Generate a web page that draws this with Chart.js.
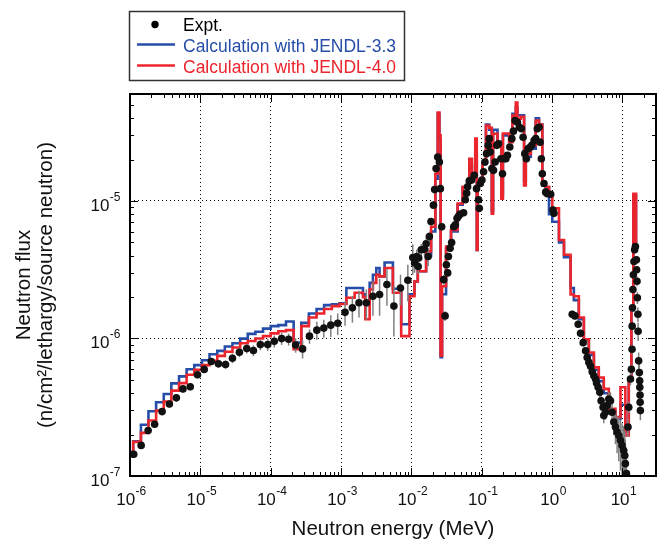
<!DOCTYPE html>
<html>
<head>
<meta charset="utf-8">
<script src="https://cdn.jsdelivr.net/npm/chart.js@4.4.0/dist/chart.umd.min.js"></script>
<style>
  html, body { margin: 0; padding: 0; background: #fff; }
</style>
</head>
<body>
<canvas id="fluxChart" width="660" height="546"></canvas>
<script>
// calculated spectra: bin left edges (MeV), value holds until next edge
const binEdges = [
    1.0e-6, 1.11e-6, 1.43e-6, 1.83e-6, 2.35e-6, 3.02e-6, 3.87e-6, 4.98e-6, 6.38e-6, 8.2e-6,
    1.054e-5, 1.35e-5, 1.74e-5, 2.23e-5, 2.86e-5, 3.68e-5, 4.72e-5, 6.07e-5, 7.78e-5, 1.0e-4,
    1.285e-4, 1.65e-4, 2.12e-4, 2.72e-4, 3.49e-4, 4.49e-4, 5.75e-4, 7.4e-4, 9.5e-4, 1.19e-3,
    1.56e-3, 2.05e-3, 2.21e-3, 2.55e-3, 2.84e-3, 3.17e-3, 3.53e-3, 4.16e-3, 5.46e-3, 7.16e-3,
    9.4e-3, 1.106e-2, 1.233e-2, 1.62e-2, 1.905e-2, 2.19e-2, 2.37e-2, 2.50e-2, 2.60e-2, 2.73e-2,
    3.11e-2, 3.66e-2, 4.54e-2, 5.35e-2, 6.65e-2, 7.26e-2, 8.09e-2, 8.50e-2, 8.73e-2, 0.1026,
    0.1148, 0.1276, 0.139, 0.145, 0.1675, 0.19, 0.20, 0.2455, 0.273, 0.305,
    0.321, 0.359, 0.40, 0.423, 0.498, 0.586, 0.652, 0.726, 0.811, 0.904,
    1.007, 1.253, 1.476, 1.832, 2.04, 2.40, 2.83, 3.33, 3.93, 4.61,
    5.43, 6.40, 7.94, 9.38, 11.0, 12.3, 13.4, 14.3, 15.6
];
const jendl33 = [
    1.5e-7, 1.79e-7, 2.36e-7, 2.96e-7, 3.44e-7, 3.95e-7, 4.72e-7, 5.3e-7, 5.98e-7, 6.4e-7,
    6.95e-7, 7.69e-7, 8.13e-7, 8.74e-7, 9.23e-7, 9.98e-7, 1.08e-6, 1.12e-6, 1.18e-6, 1.23e-6,
    1.25e-6, 1.33e-6, 9.34e-7, 1.3e-6, 1.52e-6, 1.64e-6, 1.75e-6, 1.77e-6, 1.8e-6, 2.33e-6,
    2.33e-6, 2.1e-6, 1.75e-6, 2.54e-6, 2.91e-6, 3.26e-6, 2.83e-6, 3.57e-6, 2.3e-6, 1.27e-6,
    2.1e-6, 2.6e-6, 3.08e-6, 4.0e-6, 6.0e-6, 1.45e-5, 4.3e-5, 2.8e-5, 7.3e-7, 2.1e-6,
    4.5e-6, 6.0e-6, 9.4e-6, 1.25e-5, 1.8e-5, 1.55e-5, 2.2e-5, 4.4e-6, 1.4e-5, 1.85e-5,
    3.6e-5, 3.3e-5, 8.5e-6, 3.3e-5, 2.7e-5, 1.1e-5, 3.0e-5, 2.7e-5, 4.3e-5, 4.8e-5,
    4.2e-5, 4.2e-5, 1.4e-5, 2.1e-5, 2.4e-5, 4.0e-5, 3.6e-5, 1.3e-5, 1.25e-5, 8.0e-6,
    7.07e-6, 5.0e-6, 3.9e-6, 2.33e-6, 1.9e-6, 1.38e-6, 9.7e-7, 7.6e-7, 5.9e-7, 4.9e-7,
    4.0e-7, 2.95e-7, 2.6e-7, 3.3e-7, 2.1e-7, 5.0e-7, 1.6e-6, 1.1e-5, 4.5e-6
];
const jendl40 = [
    1.41e-7, 1.77e-7, 2.06e-7, 2.53e-7, 2.99e-7, 3.48e-7, 4.18e-7, 4.74e-7, 5.45e-7, 5.92e-7,
    6.4e-7, 6.88e-7, 7.48e-7, 8.0e-7, 8.6e-7, 9.23e-7, 9.6e-7, 1.0e-6, 1.04e-6, 1.09e-6,
    1.13e-6, 1.15e-6, 8.35e-7, 1.23e-6, 1.42e-6, 1.52e-6, 1.64e-6, 1.72e-6, 1.78e-6, 1.98e-6,
    2.15e-6, 2.0e-6, 1.38e-6, 2.27e-6, 2.54e-6, 2.91e-6, 2.83e-6, 3.26e-6, 2.15e-6, 1.04e-6,
    2.03e-6, 2.6e-6, 3.08e-6, 4.3e-6, 6.5e-6, 1.58e-5, 4.4e-5, 3.0e-5, 7.5e-7, 2.4e-6,
    4.66e-6, 6.16e-6, 9.6e-6, 1.27e-5, 2.03e-5, 1.58e-5, 2.84e-5, 4.4e-6, 1.42e-5, 1.87e-5,
    3.54e-5, 3.4e-5, 8.1e-6, 3.08e-5, 2.61e-5, 1.04e-5, 3.1e-5, 2.68e-5, 4.18e-5, 5.2e-5,
    3.96e-5, 4.1e-5, 1.3e-5, 2.2e-5, 2.54e-5, 3.85e-5, 3.6e-5, 1.34e-5, 1.27e-5, 1.1e-5,
    8.84e-6, 5.21e-6, 4.07e-6, 2.09e-6, 2.03e-6, 1.42e-6, 9.87e-7, 7.9e-7, 6.17e-7, 5.21e-7,
    4.3e-7, 3.08e-7, 2.68e-7, 4.42e-7, 1.97e-7, 5.1e-7, 1.7e-6, 1.13e-5, 4.5e-6
];

// measured points: energy (MeV), flux, relative error
const exptEnergy = [
    1.13e-6, 1.44e-6, 1.81e-6, 2.24e-6, 2.86e-6, 3.63e-6, 4.56e-6, 5.66e-6, 7.19e-6, 9.12e-6,
    1.135e-5, 1.43e-5, 1.81e-5, 2.28e-5, 2.86e-5, 3.59e-5, 4.57e-5, 5.68e-5, 7.13e-5, 9.08e-5,
    1.125e-4, 1.43e-4, 1.8e-4, 2.26e-4, 2.84e-4, 3.56e-4, 4.53e-4, 5.69e-4, 7.15e-4, 8.97e-4,
    1.14e-3, 1.45e-3, 1.8e-3, 2.29e-3, 2.84e-3, 3.53e-3, 4.49e-3, 5.64e-3, 7.0e-3, 8.9e-3,
    1.047e-2, 1.11e-2, 1.19e-2, 1.25e-2, 1.27e-2, 1.38e-2, 1.53e-2, 1.62e-2, 1.73e-2, 1.8e-2,
    1.9e-2, 2.06e-2, 2.14e-2, 0.02244, 0.02366, 0.025, 0.02582, 0.02698, 0.02877, 0.03013,
    0.03141, 0.0328, 0.03357, 0.03548, 0.03733, 0.0399, 0.04217, 0.04457, 0.0469, 0.04955,
    0.05521, 0.05834, 0.06095, 0.06295, 0.06653, 0.07178, 0.07834, 0.08437, 0.09016, 0.09226,
    0.09528, 0.1007, 0.1062, 0.111, 0.1169, 0.1236, 0.1276, 0.1318, 0.1393, 0.1469,
    0.1552, 0.1641, 0.173, 0.1871, 0.1972, 0.2084, 0.2203, 0.2317, 0.2506, 0.2679,
    0.2818, 0.2979, 0.3214, 0.3428, 0.3664, 0.3873, 0.4093, 0.4315, 0.456, 0.4819,
    0.5144, 0.5546, 0.5861, 0.6166, 0.6516, 0.6745, 0.7031, 0.7262, 0.7674, 0.811,
    0.855, 0.955, 1.03, 1.064, 1.932, 2.109, 2.35, 2.541, 2.767, 2.993,
    3.155, 3.334, 3.524, 3.716, 3.927, 4.151, 4.287, 4.511, 4.768, 4.977,
    5.31, 5.43, 5.74, 6.05, 6.4, 6.76, 7.13, 7.53, 7.96, 8.39,
    8.87, 9.37, 9.87, 10.4, 10.8, 11.0, 11.4, 12.0, 12.3, 13.0,
    13.4, 13.7, 13.75, 13.9, 14.1, 14.3, 14.6, 14.9, 15.3, 15.8,
    15.9, 16.1, 16.3, 16.6, 16.7, 17.0, 17.4, 17.6, 17.65, 17.8,
    17.85, 18.0
];
const exptFlux = [
    1.44e-7, 1.67e-7, 2.14e-7, 2.38e-7, 2.94e-7, 3.34e-7, 3.7e-7, 4.3e-7, 4.46e-7, 5.45e-7,
    5.96e-7, 6.81e-7, 6.55e-7, 6.47e-7, 7.19e-7, 7.94e-7, 8.45e-7, 8.17e-7, 9.03e-7, 9.03e-7,
    9.55e-7, 9.98e-7, 9.87e-7, 8.97e-7, 8.4e-7, 1.04e-6, 1.15e-6, 1.19e-6, 1.25e-6, 1.29e-6,
    1.55e-6, 1.67e-6, 1.82e-6, 1.82e-6, 2.03e-6, 2.09e-6, 2.47e-6, 1.72e-6, 2.33e-6, 2.65e-6,
    3.88e-6, 3.54e-6, 3.95e-6, 3.34e-6, 3.85e-6, 4.42e-6, 4.47e-6, 4.88e-6, 3.95e-6, 5.51e-6,
    7.08e-6, 9.33e-6, 1.21e-5, 1.72e-5, 2.09e-5, 1.92e-5, 1.23e-5, 6.5e-6, 2.68e-6, 1.46e-6,
    3.44e-6, 3.0e-6, 3.95e-6, 4.54e-6, 4.99e-6, 6.5e-6, 6.7e-6, 7.48e-6, 7.78e-6, 8.04e-6,
    8.22e-6, 1.02e-5, 1.14e-5, 1.27e-5, 1.4e-5, 1.42e-5, 1.54e-5, 1.23e-5, 1.02e-5, 8.84e-6,
    1.34e-5, 1.42e-5, 1.63e-5, 1.92e-5, 2.21e-5, 2.54e-5, 2.84e-5, 2.27e-5, 1.72e-5, 1.67e-5,
    1.92e-5, 2.54e-5, 2.61e-5, 2.03e-5, 1.58e-5, 2.03e-5, 2.03e-5, 2.15e-5, 2.47e-5, 2.84e-5,
    3.22e-5, 3.85e-5, 3.74e-5, 3.44e-5, 3.35e-5, 2.91e-5, 2.21e-5, 2.03e-5, 2.4e-5, 2.45e-5,
    2.54e-5, 2.75e-5, 2.84e-5, 3.35e-5, 3.44e-5, 2.68e-5, 2.03e-5, 1.58e-5, 1.34e-5, 1.16e-5,
    1.13e-5, 1.12e-5, 8.6e-6, 8.13e-6, 1.5e-6, 1.46e-6, 1.27e-6, 1.09e-6, 9.33e-7, 8.13e-7,
    7.28e-7, 6.7e-7, 6.27e-7, 5.73e-7, 5.36e-7, 5.07e-7, 4.74e-7, 4.42e-7, 4.06e-7, 3.53e-7,
    3.16e-7, 2.75e-7, 2.91e-7, 3.25e-7, 3.63e-7, 3.53e-7, 2.91e-7, 2.47e-7, 2.27e-7, 2.09e-7,
    1.97e-7, 1.82e-7, 1.67e-7, 1.54e-7, 1.41e-7, 1.23e-7, 1.04e-7, 2.27e-7, 3.16e-7, 5.07e-7,
    5.98e-7, 8.35e-7, 1.23e-6, 1.67e-6, 2.27e-6, 2.91e-6, 3.63e-6, 4.42e-6, 4.66e-6, 3.74e-6,
    3.16e-6, 2.61e-6, 1.98e-6, 1.5e-6, 1.13e-6, 6.88e-7, 5.66e-7, 4.93e-7, 4.42e-7, 3.88e-7,
    3.44e-7, 2.99e-7
];
const exptErr = [
    0.06, 0.06, 0.06, 0.06, 0.06, 0.06, 0.06, 0.06, 0.06, 0.06,
    0.06, 0.06, 0.07, 0.07, 0.08, 0.08, 0.08, 0.09, 0.09, 0.1,
    0.1, 0.1, 0.1, 0.12, 0.15, 0.12, 0.15, 0.15, 0.18, 0.18,
    0.2, 0.22, 0.22, 0.25, 0.28, 0.3, 0.3, 0.4, 0.25, 0.3,
    0.25, 0.15, 0.12, 0.12, 0.12, 0.1, 0.1, 0.1, 0.15, 0.08,
    0.06, 0.06, 0.06, 0.06, 0.06, 0.06, 0.06, 0.06, 0.08, 0.08,
    0.06, 0.06, 0.06, 0.06, 0.06, 0.05, 0.05, 0.05, 0.05, 0.05,
    0.05, 0.05, 0.05, 0.05, 0.05, 0.05, 0.05, 0.05, 0.05, 0.05,
    0.05, 0.05, 0.05, 0.05, 0.05, 0.05, 0.05, 0.05, 0.05, 0.05,
    0.05, 0.05, 0.05, 0.05, 0.05, 0.05, 0.05, 0.05, 0.05, 0.05,
    0.05, 0.05, 0.05, 0.05, 0.05, 0.05, 0.05, 0.05, 0.05, 0.05,
    0.05, 0.05, 0.05, 0.05, 0.05, 0.05, 0.05, 0.05, 0.05, 0.05,
    0.05, 0.05, 0.05, 0.05, 0.06, 0.06, 0.06, 0.06, 0.06, 0.06,
    0.06, 0.06, 0.07, 0.07, 0.07, 0.08, 0.08, 0.08, 0.1, 0.1,
    0.1, 0.12, 0.12, 0.12, 0.12, 0.15, 0.15, 0.2, 0.25, 0.3,
    0.35, 0.4, 0.45, 0.5, 0.5, 0.5, 0.5, 0.15, 0.1, 0.1,
    0.08, 0.08, 0.06, 0.06, 0.05, 0.05, 0.05, 0.05, 0.05, 0.06,
    0.06, 0.08, 0.1, 0.12, 0.15, 0.15, 0.15, 0.15, 0.15, 0.15,
    0.15, 0.15
];

const xDecades = [1e-6, 1e-5, 1e-4, 1e-3, 1e-2, 1e-1, 1, 10];
const yDecades = [1e-7, 1e-6, 1e-5];
const xMin = 1e-6, xMax = 30, yMin = 1e-7, yMax = 6e-5;

const FONT = "'Liberation Sans', Arial, Helvetica, sans-serif";
const BLUE = 'rgb(38, 78, 168)';
const RED = 'rgb(236, 36, 44)';

function toPoints(xs, ys) {
    return xs.map((v, i) => ({ x: v, y: ys[i] }));
}

// gray error bars under the black dots
const errorBars = {
    id: 'errorBars',
    beforeDatasetDraw(chart, args) {
        if (args.index !== 0) return;
        const { ctx, chartArea, scales: { x, y } } = chart;
        ctx.save();
        ctx.beginPath();
        ctx.rect(chartArea.left, chartArea.top, chartArea.width, chartArea.height);
        ctx.clip();
        ctx.strokeStyle = '#808080';
        ctx.lineWidth = 1.5;
        exptEnergy.forEach((e, i) => {
            const px = x.getPixelForValue(e);
            const lo = y.getPixelForValue(exptFlux[i] * (1 - exptErr[i]));
            const hi = y.getPixelForValue(exptFlux[i] * (1 + exptErr[i]));
            ctx.beginPath();
            ctx.moveTo(px, lo);
            ctx.lineTo(px, hi);
            ctx.stroke();
        });
        ctx.restore();
    }
};

function drawPower(ctx, exp, x, y, align) {
    const base = '10', sup = String(exp);
    ctx.font = '17px ' + FONT;
    const wb = ctx.measureText(base).width;
    ctx.font = '12px ' + FONT;
    const ws = ctx.measureText(sup).width;
    const left = align === 'center' ? x - (wb + ws) / 2 : x - wb - ws;
    ctx.font = '17px ' + FONT;
    ctx.fillText(base, left, y);
    ctx.font = '12px ' + FONT;
    ctx.fillText(sup, left + wb + 0.5, y - 10);
}

// frame, inward ticks, power-of-ten labels and boxed legend
const frame = {
    id: 'frame',
    afterDraw(chart) {
        const { ctx, chartArea: a, scales: { x, y } } = chart;
        ctx.save();
        ctx.strokeStyle = '#000';
        ctx.lineWidth = 1;
        ctx.beginPath();
        xDecades.forEach(d => {
            for (let k = 1; k <= 9; k++) {
                const v = d * k;
                if (v <= xMin || v >= xMax) continue;
                const px = Math.round(x.getPixelForValue(v)) + 0.5;
                const len = k === 1 ? 8 : 4;
                ctx.moveTo(px, a.bottom); ctx.lineTo(px, a.bottom - len);
                ctx.moveTo(px, a.top); ctx.lineTo(px, a.top + len);
            }
        });
        yDecades.forEach(d => {
            for (let k = 1; k <= 9; k++) {
                const v = d * k;
                if (v <= yMin || v >= yMax) continue;
                const py = Math.round(y.getPixelForValue(v)) + 0.5;
                const len = k === 1 ? 8 : 4;
                ctx.moveTo(a.left, py); ctx.lineTo(a.left + len, py);
                ctx.moveTo(a.right, py); ctx.lineTo(a.right - len, py);
            }
        });
        ctx.stroke();

        ctx.lineWidth = 2;
        ctx.strokeRect(a.left, a.top, a.right - a.left, a.bottom - a.top);

        ctx.fillStyle = '#111';
        ctx.textBaseline = 'alphabetic';
        ctx.textAlign = 'left';
        xDecades.forEach(d => {
            drawPower(ctx, Math.round(Math.log10(d)), x.getPixelForValue(d) + 1, a.bottom + 29, 'center');
        });
        yDecades.forEach(d => {
            drawPower(ctx, Math.round(Math.log10(d)), a.left - 10, y.getPixelForValue(d) + 10, 'right');
        });

        // legend
        ctx.lineWidth = 1.5;
        ctx.strokeStyle = '#333';
        ctx.strokeRect(129.5, 11.5, 275, 69);
        ctx.font = '17.5px ' + FONT;
        ctx.fillStyle = '#000';
        ctx.beginPath();
        ctx.arc(155, 24.5, 3.7, 0, Math.PI * 2);
        ctx.fill();
        ctx.fillText('Expt.', 183, 31);
        ctx.lineWidth = 2.5;
        ctx.strokeStyle = BLUE;
        ctx.beginPath(); ctx.moveTo(137, 44.5); ctx.lineTo(175, 44.5); ctx.stroke();
        ctx.fillStyle = BLUE;
        ctx.fillText('Calculation with JENDL-3.3', 183, 52);
        ctx.strokeStyle = RED;
        ctx.beginPath(); ctx.moveTo(137, 65.5); ctx.lineTo(175, 65.5); ctx.stroke();
        ctx.fillStyle = RED;
        ctx.fillText('Calculation with JENDL-4.0', 183, 73);
        ctx.restore();
    }
};

const data = {
    datasets: [{
        label: 'Expt.',
        type: 'scatter',
        data: toPoints(exptEnergy, exptFlux),
        backgroundColor: '#111',
        borderWidth: 0,
        pointRadius: 3.8,
        order: 0
    },
    {
        label: 'Calculation with JENDL-4.0',
        type: 'line',
        data: toPoints(binEdges, jendl40),
        borderColor: RED,
        borderWidth: 2.6,
        stepped: 'before',
        pointRadius: 0,
        fill: false,
        order: 1
    },
    {
        label: 'Calculation with JENDL-3.3',
        type: 'line',
        data: toPoints(binEdges, jendl33),
        borderColor: BLUE,
        borderWidth: 2.6,
        stepped: 'before',
        pointRadius: 0,
        fill: false,
        order: 2
    }]
};

const config = {
    type: 'scatter',
    data: data,
    options: {
        responsive: false,
        animation: false,
        events: [],
        layout: { padding: { top: 94, right: 3, left: 0, bottom: 0 } },
        plugins: {
            legend: { display: false },
            tooltip: { enabled: false }
        },
        scales: {
            x: {
                type: 'logarithmic',
                min: xMin,
                max: xMax,
                afterBuildTicks: scale => { scale.ticks = xDecades.map(v => ({ value: v })); },
                afterFit: scale => { scale.height = 70; },
                ticks: { display: false },
                grid: { color: '#000', lineWidth: 1, drawTicks: false },
                border: { display: false, dash: [1, 3] },
                title: {
                    display: true,
                    text: 'Neutron energy (MeV)',
                    color: '#111',
                    font: { family: FONT, size: 20.5 },
                    padding: { top: 0, bottom: 4 }
                }
            },
            y: {
                type: 'logarithmic',
                min: yMin,
                max: yMax,
                afterBuildTicks: scale => { scale.ticks = yDecades.map(v => ({ value: v })); },
                afterFit: scale => { scale.width = 130; },
                ticks: { display: false },
                grid: { color: '#000', lineWidth: 1, drawTicks: false },
                border: { display: false, dash: [1, 3] },
                title: {
                    display: true,
                    text: ['Neutron flux', '(n/cm\u00b2/lethargy/source neutron)'],
                    color: '#111',
                    font: { family: FONT, size: 20.5, lineHeight: 1.05 },
                    padding: { top: 14, bottom: 0 }
                }
            }
        }
    },
    plugins: [errorBars, frame]
};

const fluxChart = new Chart(
    document.getElementById('fluxChart'),
    config
);
</script>
</body>
</html>
